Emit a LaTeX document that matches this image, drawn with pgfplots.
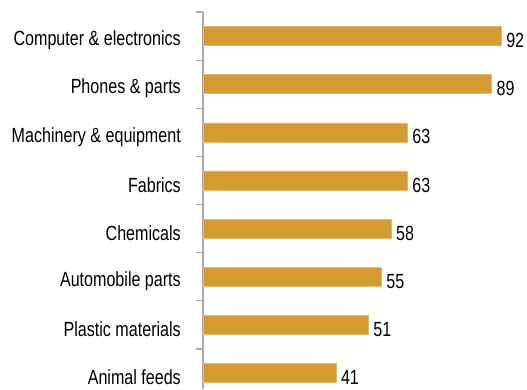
\documentclass[border=0pt]{standalone}
\usepackage{pgfplots}
\pgfplotsset{compat=1.18}
\usepackage{fontspec}
\setmainfont{Liberation Sans}[FakeStretch=0.785]
\definecolor{barcol}{RGB}{211,155,49}
\definecolor{axcol}{RGB}{170,170,170}
\begin{document}
\fontsize{20.5}{24}\selectfont
\begin{tikzpicture}
\useasboundingbox (-203pt,0) rectangle (324pt,389pt);
\begin{axis}[
  scale only axis,
  width=324pt, height=377pt,
  xmin=0, xmax=100,
  ymin=-0.333, ymax=7.5,
  axis x line=none,
  axis y line*=left,
  axis line style={axcol, line width=1.5pt},
  ytick={0,...,7},
  yticklabels={Animal feeds,Plastic materials,Automobile parts,Chemicals,Fabrics,Machinery \& equipment,Phones \& parts,Computer \& electronics},
  major tick length=0pt,
  minor ytick={-0.5,0.5,...,7.5},
  minor tick length=7pt,
  tick align=outside,
  minor tick style={axcol, line width=1.2pt},
  yticklabel style={font=\fontsize{20.5}{24}\selectfont, inner sep=0pt, xshift=-22pt, yshift=-4.5pt},
  /pgf/number format/assume math mode=true,
  point meta=x,
  nodes near coords,
  nodes near coords style={font=\fontsize{20.5}{24}\selectfont, anchor=west, inner sep=0pt, xshift=5pt, yshift=-4.5pt},
  clip=false,
]
\addplot[xbar, bar width=19pt, fill=barcol, draw=barcol!70!white, line width=0.4pt] coordinates {
(41,0) (51,1) (55,2) (58,3) (63,4) (63,5) (89,6) (92,7)
};
\end{axis}
\end{tikzpicture}
\end{document}
